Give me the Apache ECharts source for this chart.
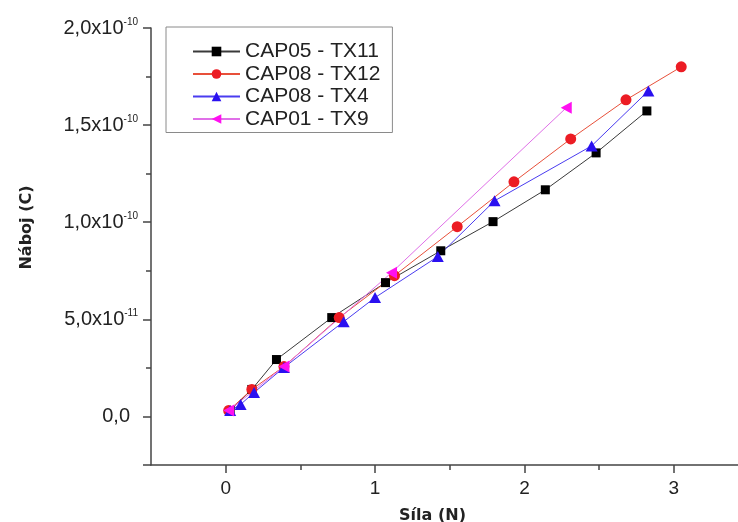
<!DOCTYPE html>
<html>
<head>
<meta charset="utf-8">
<script src="https://cdn.jsdelivr.net/npm/echarts@6/dist/echarts.min.js"></script>
<style>
html,body{margin:0;padding:0;background:#fff;}
#chart{width:738px;height:522px;}
</style>
</head>
<body>
<div id="chart"></div>
<script>
// ---- data ----
const seriesNames = ['CAP05 - TX11', 'CAP08 - TX12', 'CAP08 - TX4', 'CAP01 - TX9'];
const tx11X = [0.03, 0.175, 0.34, 0.71, 1.07, 1.44, 1.79, 2.14, 2.48, 2.82];
const tx11Y = [0.3e-11, 1.39e-11, 2.93e-11, 5.09e-11, 6.89e-11, 8.53e-11, 1.003e-10, 1.167e-10, 1.357e-10, 1.573e-10];
const tx12X = [0.02, 0.175, 0.39, 0.76, 1.13, 1.55, 1.93, 2.31, 2.68, 3.05];
const tx12Y = [0.3e-11, 1.39e-11, 2.57e-11, 5.09e-11, 7.25e-11, 9.77e-11, 1.208e-10, 1.429e-10, 1.630e-10, 1.800e-10];
const tx4X = [0.03, 0.10, 0.19, 0.39, 0.79, 1.00, 1.42, 1.80, 2.45, 2.83];
const tx4Y = [0.3e-11, 0.62e-11, 1.23e-11, 2.52e-11, 4.88e-11, 6.12e-11, 8.23e-11, 1.11e-10, 1.393e-10, 1.676e-10];
const tx9X = [0.02, 0.39, 1.11, 2.28];
const tx9Y = [0.3e-11, 2.57e-11, 7.4e-11, 1.589e-10];

const xMajorTicks = [0, 1, 2, 3];
const xMinorTicks = [0.5, 1.5, 2.5];
const yMajorTicks = [-2.5e-11, 0, 5e-11, 1e-10, 1.5e-10, 2e-10];
const yMinorTicks = [2.5e-11, 7.5e-11, 1.25e-10, 1.75e-10];
const yLabelValues = [0, 5e-11, 1e-10, 1.5e-10, 2e-10];
const yLabelMain = ['0,0', '5,0x10', '1,0x10', '1,5x10', '2,0x10'];
const yLabelExp = ['', '-11', '-10', '-10', '-10'];

function pairs(xs, ys) { return xs.map((x, i) => [x, ys[i]]); }

const axisColor = '#444';
const font = 'Liberation Sans, Arial, sans-serif';

const chart = echarts.init(document.getElementById('chart'), null, {renderer: 'canvas'});

function yFormatter(v) {
  let best = 0, bd = Infinity;
  yLabelValues.forEach((lv, i) => { const d = Math.abs(lv - v); if (d < bd) { bd = d; best = i; } });
  if (bd > 1e-12) return '';
  const e = yLabelExp[best];
  return e ? '{a|' + yLabelMain[best] + '}{s|' + e + '}' : '{z|' + yLabelMain[best] + '}';
}

const baseX = {
  type: 'value', min: -0.5, max: 3.43, position: 'bottom',
  splitLine: {show: false}
};
const baseY = {
  type: 'value', min: -2.5e-11, max: 2e-10, position: 'left',
  splitLine: {show: false}
};

const option = {
  backgroundColor: '#fff',
  animation: false,
  grid: {left: 151, right: 0, top: 28, bottom: 57, containLabel: false, outerBoundsMode: 'none'},
  legend: {
    orient: 'vertical', left: 166, top: 27,
    data: seriesNames,
    borderColor: '#8a8a8a', borderWidth: 1,
    padding: [14, 12, 3, 26],
    itemWidth: 47, itemHeight: 12, itemGap: 1.5,
    textStyle: {fontFamily: font, fontSize: 21, color: '#222', lineHeight: 21}
  },
  xAxis: [
    Object.assign({}, baseX, {
      name: 'Síla (N)', nameLocation: 'middle', nameGap: 43,
      nameTextStyle: {fontFamily: 'DejaVu Sans, sans-serif', fontWeight: 'bold', fontSize: 16, color: '#222', padding: [0, 24, 0, 0]},
      axisLine: {show: true, onZero: false, lineStyle: {color: axisColor, width: 1.5}},
      axisTick: {show: true, inside: false, length: 8, customValues: xMajorTicks, lineStyle: {color: axisColor, width: 1.5}},
      axisLabel: {show: true, margin: 14, customValues: xMajorTicks, fontFamily: font, fontSize: 19, color: '#222',
        formatter: v => String(Math.round(v))}
    }),
    Object.assign({}, baseX, {
      axisLine: {show: false, onZero: false},
      axisTick: {show: true, inside: false, length: 5, customValues: xMinorTicks, lineStyle: {color: axisColor, width: 1.5}},
      axisLabel: {show: false}
    })
  ],
  yAxis: [
    Object.assign({}, baseY, {
      name: 'Náboj (C)', nameLocation: 'middle', nameGap: 116, nameRotate: 90,
      nameTextStyle: {fontFamily: 'DejaVu Sans, sans-serif', fontWeight: 'bold', fontSize: 16, color: '#222', padding: [0, 0, 0, 38]},
      axisLine: {show: true, onZero: false, lineStyle: {color: axisColor, width: 1.5}},
      axisTick: {show: true, inside: false, length: 8, customValues: yMajorTicks, lineStyle: {color: axisColor, width: 1.5}},
      axisLabel: {show: true, margin: 13, customValues: yLabelValues, formatter: yFormatter,
        rich: {
          a: {fontFamily: font, fontSize: 20, color: '#222'},
          z: {fontFamily: font, fontSize: 20, color: '#222', padding: [0, 8, 0, 0]},
          s: {fontFamily: font, fontSize: 10, color: '#222', verticalAlign: 'top', padding: [0, 0, 12, 0]}
        }}
    }),
    Object.assign({}, baseY, {
      axisLine: {show: false, onZero: false},
      axisTick: {show: true, inside: false, length: 5, customValues: yMinorTicks, lineStyle: {color: axisColor, width: 1.5}},
      axisLabel: {show: false}
    })
  ],
  series: [
    {name: seriesNames[0], type: 'line', data: pairs(tx11X, tx11Y),
      symbol: 'rect', symbolSize: 9,
      itemStyle: {color: '#000'}, lineStyle: {color: '#3a3a3a', width: 1}},
    {name: seriesNames[1], type: 'line', data: pairs(tx12X, tx12Y),
      symbol: 'circle', symbolSize: 11,
      itemStyle: {color: '#ec1c24'}, lineStyle: {color: '#e8503a', width: 1}},
    {name: seriesNames[2], type: 'line', data: pairs(tx4X, tx4Y),
      symbol: 'triangle', symbolSize: [12, 11],
      itemStyle: {color: '#2a10f0'}, lineStyle: {color: '#4a3cf0', width: 1}},
    {name: seriesNames[3], type: 'line', data: pairs(tx9X, tx9Y),
      symbol: 'triangle', symbolSize: [12, 11], symbolRotate: 90,
      itemStyle: {color: '#ff10f0'}, lineStyle: {color: '#e070e8', width: 1}}
  ]
};
chart.setOption(option);
</script>
</body>
</html>
